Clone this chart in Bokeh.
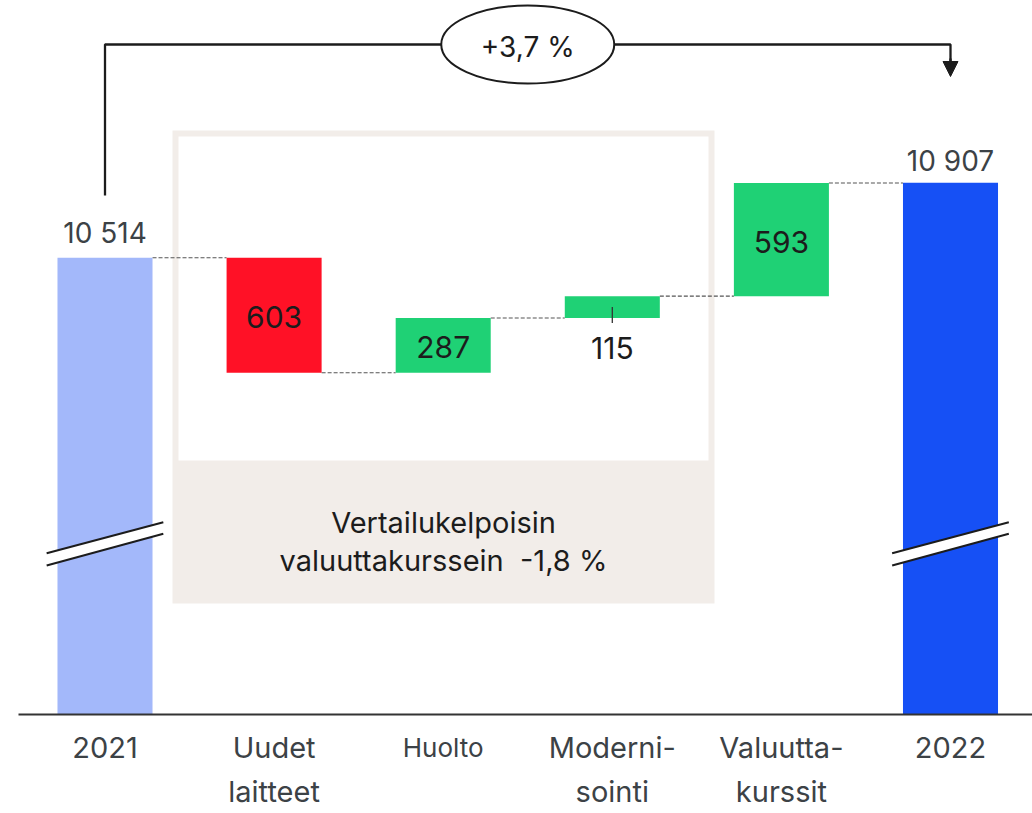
from bokeh.plotting import figure
from bokeh.models import ColumnDataSource, Arrow, NormalHead
from bokeh.core.properties import value
from bokeh.embed import file_html
from bokeh.resources import INLINE

# ---- data ----
categories = ["2021", "Uudet\nlaitteet", "Huolto", "Moderni-\nsointi", "Valuutta-\nkurssit", "2022"]
start_total = 10514
changes = [-603, 287, 115, 593]
end_total = 10907
value_labels = ["10 514", "603", "287", "115", "593", "10 907"]
change_label = "+3,7 %"
box_text = ["Vertailukelpoisin", "valuuttakurssein\u00a0\u00a0-1,8 %"]

# ---- colours / style ----
C_START = "#a3b8fa"
C_END = "#1650f5"
C_NEG = "#ff1126"
C_POS = "#1fd175"
C_TEXT = "#3c4246"
C_DARK = "#1c1c1c"
C_BEIGE = "#f2ede9"
FONT = value("Inter")

# layout constants (px -> data)
PX_PER_UNIT = 0.19071
SLOT = 169.1
BASE = 8119          # visual floor of the broken axis
BAR_W = 0.562

W, H = 1032, 813
x0 = -104.5 / SLOT
y_top = start_total + 257.3 / PX_PER_UNIT
y_bot = y_top - H / PX_PER_UNIT

p = figure(width=W, height=H, x_range=(x0, x0 + W / SLOT), y_range=(y_bot, y_top),
           x_axis_type=None, y_axis_type=None, toolbar_location=None,
           output_backend="svg", min_border=0, outline_line_color=None,
           background_fill_color="white", border_fill_color="white")

def Y(py):
    return y_top - py / PX_PER_UNIT

def X(px):
    return (px - 104.5) / SLOT

# ---- waterfall geometry ----
n = len(categories)
idx = list(range(n))
bottoms, tops, colors = [BASE], [start_total], [C_START]
run = start_total
levels = [start_total]
for c in changes:
    new = run + c
    bottoms.append(min(run, new)); tops.append(max(run, new))
    colors.append(C_POS if c > 0 else C_NEG)
    run = new
    levels.append(run)
bottoms.append(BASE); tops.append(end_total); colors.append(C_END)
levels.append(end_total)

# ---- comparison box ----
bx0, bx1 = X(172), X(714)
p.quad(left=[bx0], right=[bx1], bottom=[Y(603)], top=[Y(130)],
       fill_color=C_BEIGE, line_color=None)
p.quad(left=[X(178)], right=[X(708)], bottom=[Y(460)], top=[Y(136)],
       fill_color="white", line_color=None)
cx = (bx0 + bx1) / 2
p.text(x=[cx, cx], y=[Y(522), Y(560)], text=box_text, text_font=FONT,
       text_font_size="29px", text_color=C_DARK, text_align="center",
       text_baseline="middle")

# ---- connectors ----
cx0, cx1, cy = [], [], []
for i in range(n - 1):
    cx0.append(i + BAR_W / 2); cx1.append(i + 1 - BAR_W / 2); cy.append(levels[i])
p.segment(x0=cx0, y0=cy, x1=cx1, y1=cy, line_color="#555555",
          line_width=1.1, line_dash="4 2")

# ---- bars ----
src = ColumnDataSource(dict(x=idx, bottom=bottoms, top=tops, color=colors))
p.vbar(x="x", bottom="bottom", top="top", width=BAR_W, fill_color="color",
       line_color=None, source=src)

# ---- axis break marks on total bars ----
for bi in (0, n - 1):
    hw = 0.345
    xs = [bi - hw, bi + hw, bi + hw, bi - hw]
    ys = [Y(552.7), Y(521.7), Y(533.3), Y(565)]
    p.patch(x=xs, y=ys, fill_color="white", line_color=None)
    p.segment(x0=[bi - hw, bi - hw], y0=[Y(552.7), Y(565)],
              x1=[bi + hw, bi + hw], y1=[Y(521.7), Y(533.3)],
              line_color=C_DARK, line_width=2)

# ---- baseline axis ----
p.segment(x0=[X(18)], y0=[BASE], x1=[X(1032)], y1=[BASE],
          line_color="#333333", line_width=2)

# ---- value labels ----
p.text(x=[0, n - 1], y=[tops[0], tops[-1]], text=[value_labels[0], value_labels[-1]],
       y_offset=[-25, -22], text_font=FONT, text_font_size="28px", text_color=C_TEXT,
       text_align="center", text_baseline="middle")
in_x, in_y, in_t = [], [], []
out_x, out_y, out_t = [], [], []
for k, c in enumerate(changes):
    i = k + 1
    if abs(c) * PX_PER_UNIT > 40:
        in_x.append(i); in_y.append((bottoms[i] + tops[i]) / 2); in_t.append(value_labels[i])
    else:
        out_x.append(i); out_y.append(bottoms[i]); out_t.append(value_labels[i])
p.text(x=in_x, y=in_y, text=in_t, y_offset=2, text_font=FONT, text_font_size="30px",
       text_color=C_DARK, text_align="center", text_baseline="middle")
p.text(x=out_x, y=out_y, text=out_t, y_offset=30, text_font=FONT, text_font_size="30px",
       text_color=C_DARK, text_align="center", text_baseline="middle")
for xo, yo in zip(out_x, out_y):
    mid = (bottoms[xo] + tops[xo]) / 2
    p.segment(x0=[xo], y0=[mid], x1=[xo], y1=[yo - 5 / PX_PER_UNIT],
              line_color="#333333", line_width=1.3)

# ---- category labels ----
line1 = [c.split("\n")[0] for c in categories]
line2 = [c.split("\n")[1] if "\n" in c else "" for c in categories]
fs = ["26px" if c == "Huolto" else "29px" for c in categories]
lsrc = ColumnDataSource(dict(x=idx, y=[BASE] * n, t1=line1, t2=line2, fs=fs))
p.text(x="x", y="y", text="t1", y_offset=33, text_font=FONT, text_font_size="fs",
       text_color=C_TEXT, text_align="center", text_baseline="middle", source=lsrc)
p.text(x="x", y="y", text="t2", y_offset=77, text_font=FONT, text_font_size="fs",
       text_color=C_TEXT, text_align="center", text_baseline="middle", source=lsrc)

# ---- overall change arrow ----
ya = Y(44)
p.line(x=[0, 0, n - 1, n - 1], y=[Y(195), ya, ya, Y(62)], line_color=C_DARK,
       line_width=2.3)
p.add_layout(Arrow(end=NormalHead(size=15, fill_color=C_DARK, line_color=C_DARK),
                   x_start=n - 1, y_start=Y(58), x_end=n - 1, y_end=Y(76),
                   line_color=C_DARK, line_width=2.3))
emid = (n - 1) / 2
p.ellipse(x=[emid], y=[ya], width=173 / SLOT, height=78 / PX_PER_UNIT,
          fill_color="white", line_color=C_DARK, line_width=2)
p.text(x=[emid], y=[Y(46)], text=[change_label], text_font=FONT, text_font_size="28px",
       text_color=C_DARK, text_align="center", text_baseline="middle")

open("out.html", "w").write(file_html(p, INLINE))
